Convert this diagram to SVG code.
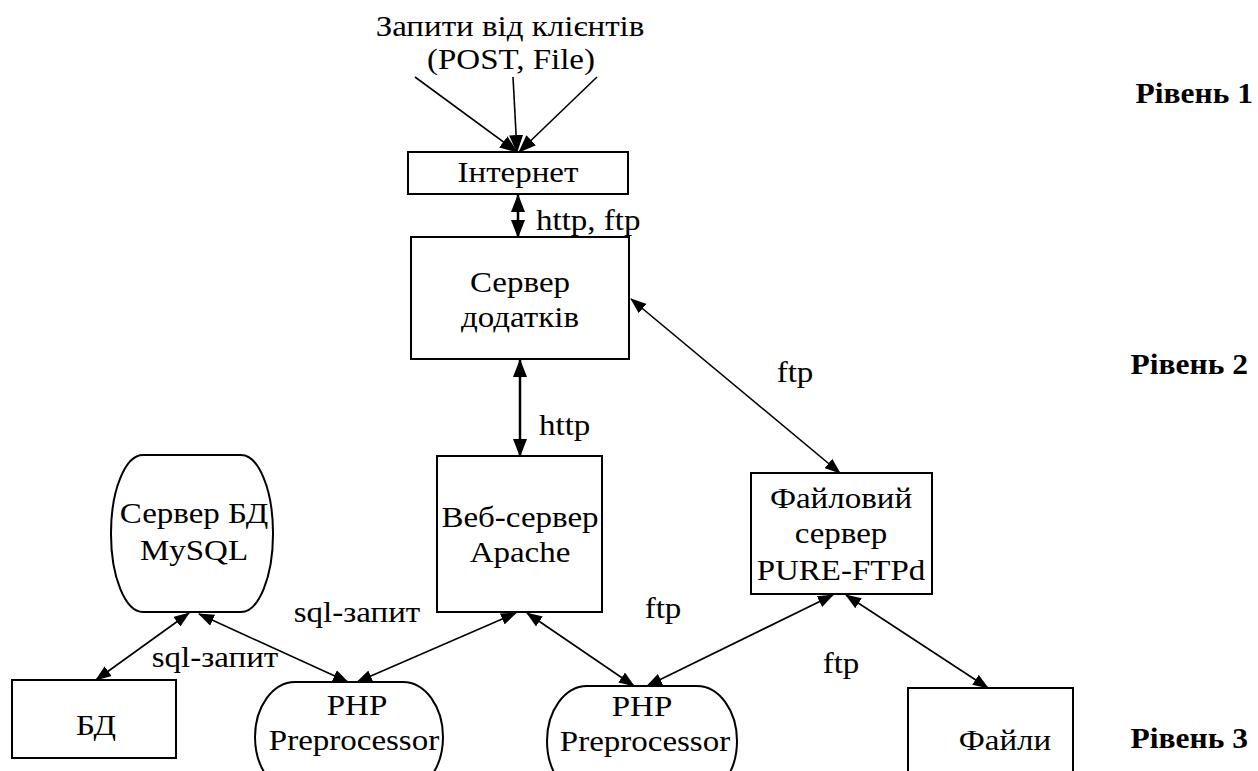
<svg xmlns="http://www.w3.org/2000/svg" width="1258" height="771" viewBox="0 0 1258 771">
<style>
text{font-family:"Liberation Serif","Times New Roman",serif;font-size:30px;fill:#000;text-anchor:middle}
.lvl{font-weight:bold;font-size:30px;text-anchor:end}
.st{text-anchor:start}
.box{fill:#fff;stroke:#000;stroke-width:2}
.c{fill:none;stroke:#000;stroke-width:1.6}
.ct{fill:none;stroke:#000;stroke-width:2.5}
</style>
<defs>
<marker id="ah" markerUnits="userSpaceOnUse" markerWidth="16" markerHeight="12" refX="15" refY="6" orient="auto-start-reverse" viewBox="0 0 16 12">
<path d="M0,0 L16,6 L0,12 z" fill="#000"/>
</marker>
<marker id="ahb" markerUnits="userSpaceOnUse" markerWidth="18" markerHeight="14" refX="17" refY="7" orient="auto-start-reverse" viewBox="0 0 18 14">
<path d="M0,0 L18,7 L0,14 z" fill="#000"/>
</marker>
</defs>
<rect width="1258" height="771" fill="#fff"/>

<g id="requests">
<text x="510" y="36" transform="matrix(1.1 0 0 1 -51 0)">Запити від клієнтів</text>
<text x="511" y="69" transform="matrix(1.1 0 0 1 -51.1 0)">(POST, File)</text>
</g>

<g id="connectors">
<line class="c" x1="415" y1="77" x2="517" y2="152" stroke-width="2" marker-end="url(#ahb)"/>
<line class="c" x1="513" y1="77" x2="517" y2="152" stroke-width="2" marker-end="url(#ahb)"/>
<line class="c" x1="597" y1="77" x2="519" y2="152" stroke-width="2" marker-end="url(#ahb)"/>
<line class="ct" x1="518" y1="195" x2="518" y2="237" marker-start="url(#ahb)" marker-end="url(#ahb)"/>
<line class="ct" x1="520" y1="360" x2="520" y2="456" marker-start="url(#ahb)" marker-end="url(#ahb)"/>
<line class="c" x1="631" y1="299" x2="840" y2="473" marker-start="url(#ah)" marker-end="url(#ah)"/>
<line class="c" x1="189" y1="613" x2="96" y2="680" marker-start="url(#ah)" marker-end="url(#ah)"/>
<line class="c" x1="199" y1="614" x2="348" y2="682" marker-start="url(#ah)" marker-end="url(#ah)"/>
<line class="c" x1="516" y1="613" x2="357" y2="682" marker-start="url(#ah)" marker-end="url(#ah)"/>
<line class="c" x1="527" y1="613" x2="634" y2="686" marker-start="url(#ah)" marker-end="url(#ah)"/>
<line class="c" x1="833" y1="595" x2="647" y2="686" marker-start="url(#ah)" marker-end="url(#ah)"/>
<line class="c" x1="846" y1="595" x2="988" y2="688" marker-start="url(#ah)" marker-end="url(#ah)"/>
<text class="st" x="536" y="230" transform="matrix(1.1 0 0 1 -53.6 0)">http, ftp</text>
<text class="st" x="539" y="435" transform="matrix(1.1 0 0 1 -53.9 0)">http</text>
<text x="795" y="382" transform="matrix(1.1 0 0 1 -79.5 0)">ftp</text>
<text x="357" y="622" transform="matrix(1.1 0 0 1 -35.7 0)">sql-запит</text>
<text x="215" y="667" transform="matrix(1.1 0 0 1 -21.5 0)">sql-запит</text>
<text x="663" y="618" transform="matrix(1.1 0 0 1 -66.3 0)">ftp</text>
<text x="841" y="673" transform="matrix(1.1 0 0 1 -84.1 0)">ftp</text>
</g>

<g id="internet">
<rect class="box" x="408" y="152" width="220" height="42"/>
<text x="518" y="182" transform="matrix(1.1 0 0 1 -51.8 0)">Інтернет</text>
</g>

<g id="appserver">
<rect class="box" x="411" y="237" width="218" height="122"/>
<text x="520" y="292" transform="matrix(1.1 0 0 1 -52 0)">Сервер</text>
<text x="520" y="327" transform="matrix(1.1 0 0 1 -52 0)">додатків</text>
</g>

<g id="apache">
<rect class="box" x="437" y="456" width="165" height="156"/>
<text x="520" y="527" transform="matrix(1.1 0 0 1 -52 0)">Веб-сервер</text>
<text x="520" y="562" transform="matrix(1.1 0 0 1 -52 0)">Apache</text>
</g>

<g id="ftpserver">
<rect class="box" x="751" y="473" width="181" height="121"/>
<text x="841" y="508" transform="matrix(1.1 0 0 1 -84.1 0)">Файловий</text>
<text x="841" y="543" transform="matrix(1.1 0 0 1 -84.1 0)">сервер</text>
<text x="841" y="580" transform="matrix(1.1 0 0 1 -84.1 0)">PURE-FTPd</text>
</g>

<g id="mysql">
<rect class="box" x="111" y="455" width="162" height="157" rx="32" ry="78"/>
<text x="194" y="523" transform="matrix(1.1 0 0 1 -19.4 0)">Сервер БД</text>
<text x="194" y="560" transform="matrix(1.1 0 0 1 -19.4 0)">MySQL</text>
</g>

<g id="db">
<rect class="box" x="12" y="680" width="164" height="78"/>
<text x="96" y="735" transform="matrix(1.1 0 0 1 -9.6 0)">БД</text>
</g>

<g id="php1">
<rect class="box" x="255" y="682" width="188" height="110" rx="40" ry="55"/>
<text x="357" y="715" transform="matrix(1.1 0 0 1 -35.7 0)">PHP</text>
<text x="354" y="750" transform="matrix(1.1 0 0 1 -35.4 0)">Preprocessor</text>
</g>

<g id="php2">
<rect class="box" x="547" y="686" width="190" height="110" rx="40" ry="55"/>
<text x="642" y="716" transform="matrix(1.1 0 0 1 -64.2 0)">PHP</text>
<text x="645" y="751" transform="matrix(1.1 0 0 1 -64.5 0)">Preprocessor</text>
</g>

<g id="files">
<rect class="box" x="908" y="688" width="165" height="100"/>
<text x="1005" y="750" transform="matrix(1.1 0 0 1 -100.5 0)">Файли</text>
</g>

<g id="levels">
<text class="lvl" x="1253" y="103" transform="matrix(1.05 0 0 1 -62.65 0)">Рівень 1</text>
<text class="lvl" x="1248" y="374" transform="matrix(1.05 0 0 1 -62.4 0)">Рівень 2</text>
<text class="lvl" x="1248" y="748" transform="matrix(1.05 0 0 1 -62.4 0)">Рівень 3</text>
</g>
</svg>
